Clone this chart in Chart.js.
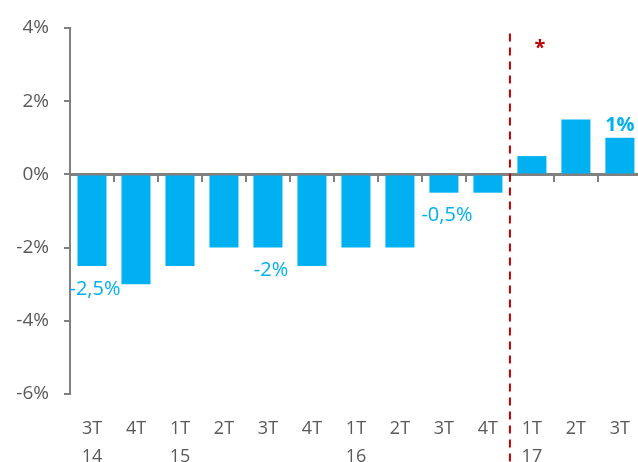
<!DOCTYPE html>
<html>
<head>
<meta charset="utf-8">
<script src="https://cdn.jsdelivr.net/npm/chart.js@4"></script>
<style>
  html, body { margin: 0; padding: 0; background: #fff; overflow: hidden; }
  #wrap { width: 638px; height: 462px; overflow: hidden; }
</style>
</head>
<body>
<div id="wrap"><canvas id="chart" width="642" height="462"></canvas></div>
<script>
const quarters = ["3T", "4T", "1T", "2T", "3T", "4T", "1T", "2T", "3T", "4T", "1T", "2T", "3T"];
const years = ["14", "", "15", "", "", "", "16", "", "", "", "17", "", ""];
const values = [-2.5, -3, -2.5, -2, -2, -2.5, -2, -2, -0.5, -0.5, 0.5, 1.5, 1];
const valueLabels = ["-2,5%", "", "", "", "-2%", "", "", "", "-0,5%", "", "", "", "1%"];
const yTicks = [4, 2, 0, -2, -4, -6];

const labels = quarters.map((q, i) => [q, years[i]]);
const blue = "#00B0F0";
const grey = "#808080";
const textGrey = "#595959";

// etiquetas de valor + linea roja discontinua
const annotPlugin = {
  id: "annot",
  afterDatasetsDraw: (chart) => {
    const ctx = chart.ctx;
    const x = chart.scales.x;
    const y = chart.scales.y;
    ctx.save();
    ctx.textAlign = "center";
    ctx.textBaseline = "middle";
    valueLabels.forEach((txt, i) => {
      if (!txt) return;
      const v = values[i];
      const px = x.getPixelForValue(i);
      const py = y.getPixelForValue(v);
      ctx.fillStyle = blue;
      if (v >= 0) {
        ctx.font = "bold 20px 'Open Sans'";
        ctx.fillText(txt, px, py - 13);
      } else {
        ctx.font = "20px 'Open Sans'";
        ctx.fillText(txt, px + 3, py + 23);
      }
    });
    // linea vertical entre 4T 16 y 1T 17
    const lx = (x.getPixelForValue(9) + x.getPixelForValue(10)) / 2;
    ctx.strokeStyle = "#C00000";
    ctx.lineWidth = 2;
    ctx.setLineDash([8, 6]);
    ctx.beginPath();
    ctx.moveTo(lx, y.getPixelForValue(3.85));
    ctx.lineTo(lx, chart.height);
    ctx.stroke();
    ctx.setLineDash([]);
    ctx.font = "bold 20px 'Open Sans'";
    ctx.fillStyle = "#C00000";
    ctx.fillText("*", lx + 30, y.getPixelForValue(3.45));
    ctx.restore();
  }
};

new Chart(document.getElementById("chart").getContext("2d"), {
  type: "bar",
  data: {
    labels: labels,
    datasets: [{
      data: values,
      backgroundColor: blue,
      borderWidth: 0,
      barPercentage: 0.66,
      categoryPercentage: 1
    }]
  },
  options: {
    responsive: false,
    animation: false,
    layout: { padding: { top: 28, right: 0, left: 0, bottom: 0 } },
    plugins: {
      legend: { display: false },
      tooltip: { enabled: false }
    },
    scales: {
      x: {
        position: "bottom",
        grid: { display: false },
        border: { display: false },
        ticks: {
          color: textGrey,
          font: { family: "'Open Sans'", size: 18, lineHeight: 1.6 },
          padding: 12,
          maxRotation: 0,
          autoSkip: false
        },
        afterFit: (s) => { s.height = 68; }
      },
      x0: {
        type: "category",
        labels: labels,
        position: { y: 0 },
        offset: true,
        ticks: { display: false },
        grid: {
          drawOnChartArea: false,
          drawTicks: true,
          tickLength: 6,
          color: grey,
          lineWidth: 2,
          offset: true
        },
        border: { display: true, color: grey, width: 3 }
      },
      y: {
        min: -6,
        max: 4,
        afterBuildTicks: (s) => { s.ticks = yTicks.map(v => ({ value: v })); },
        grid: {
          drawOnChartArea: false,
          drawTicks: true,
          tickLength: 6,
          color: grey,
          lineWidth: 2
        },
        border: { display: true, color: grey, width: 2 },
        ticks: {
          color: textGrey,
          font: { family: "'Open Sans'", size: 19 },
          padding: 15,
          callback: (v) => v + "%"
        },
        afterFit: (s) => { s.width = 70; }
      }
    }
  },
  plugins: [annotPlugin]
});
</script>
</body>
</html>
